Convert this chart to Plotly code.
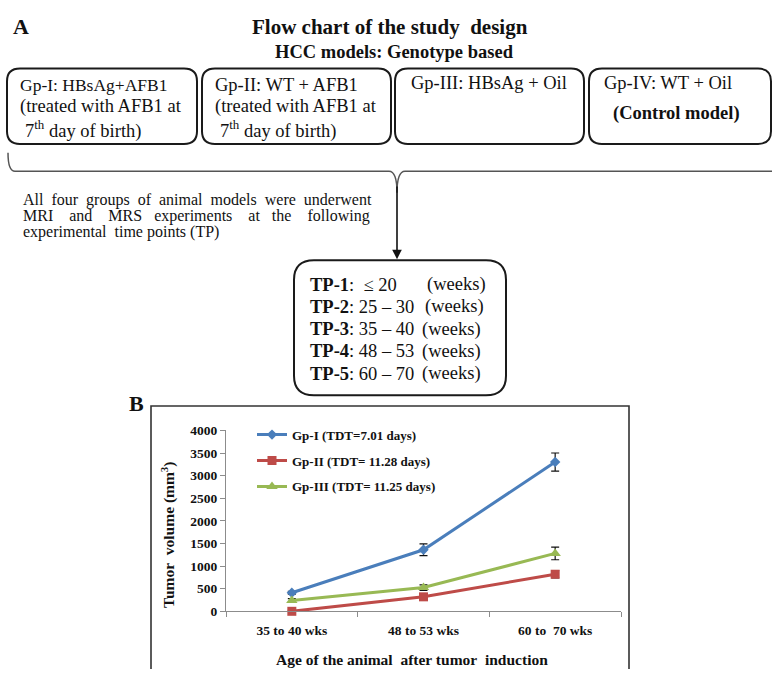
import plotly.graph_objects as go

# ---------------- data ----------------
categories = ["35 to 40 wks", "48 to 53 wks", "60 to\u00a0\u00a070 wks"]
series_names = ["Gp-I (TDT=7.01 days)", "Gp-II (TDT= 11.28 days)", "Gp-III (TDT= 11.25 days)"]
gp1 = [410, 1360, 3300]
gp1_err = [30, 130, 200]
gp2 = [0, 320, 820]
gp2_err = [20, 30, 80]
gp3 = [240, 525, 1280]
gp3_err = [40, 60, 140]
y_ticks = [0, 500, 1000, 1500, 2000, 2500, 3000, 3500, 4000]

group_boxes = [
    ["Gp-I: HBsAg+AFB1", "(treated with AFB1 at", "7<sup>th</sup> day of birth)"],
    ["Gp-II: WT + AFB1", "(treated with AFB1 at", "7<sup>th</sup> day of birth)"],
    ["Gp-III: HBsAg + Oil"],
    ["Gp-IV: WT + Oil", "<b>(Control model)</b>"],
]
NB = "\u00a0"
paragraph = [
    f"All{NB} four{NB} groups{NB} of{NB} animal{NB} models{NB} were{NB} underwent",
    f"MRI{NB*3} and{NB*3} MRS{NB*2} experiments{NB*3} at{NB*2} the{NB*3} following",
    f"experimental{NB} time points (TP)",
]
tp_labels = ["<b>TP-1</b>:" + NB * 2 + "\u2264 20", "<b>TP-2</b>: 25 \u2013 30",
             "<b>TP-3</b>: 35 \u2013 40", "<b>TP-4</b>: 48 \u2013 53", "<b>TP-5</b>: 60 \u2013 70"]
tp_unit = "(weeks)"

# ---------------- layout helpers (pixel space) ----------------
W, H = 772, 677
SERIF = "Liberation Serif, Times New Roman, serif"
INK = "#111111"

def rrect(x0, y0, x1, y1, r):
    return (f"M{x0+r},{y0} L{x1-r},{y0} Q{x1},{y0} {x1},{y0+r} L{x1},{y1-r} "
            f"Q{x1},{y1} {x1-r},{y1} L{x0+r},{y1} Q{x0},{y1} {x0},{y1-r} "
            f"L{x0},{y0+r} Q{x0},{y0} {x0+r},{y0} Z")

shapes = []
annotations = []

def txt(x, y, s, size, bold=False, anchor="left", color=INK, angle=0):
    f = dict(family=SERIF, size=size, color=color)
    if bold:
        f["weight"] = "bold"
    annotations.append(dict(
        x=x, y=y, xref="x2", yref="y2", text=s, showarrow=False,
        xanchor=anchor, yanchor="middle", textangle=angle, font=f,
    ))

# Panel A headings
txt(21, 20, "A", 22, bold=True, anchor="center")
txt(390, 20, "Flow chart of the study" + NB + " design", 21, bold=True, anchor="center")
txt(394, 46, "HCC models: Genotype based", 18.5, bold=True, anchor="center")

# group boxes
box_x = [(7, 197), (202, 391), (395, 584), (589, 771)]
box_text_x = [[18, 18, 23], [213, 213, 218], [409], [602, 611]]
box_text_y = [[80, 102, 125], [80, 102, 125], [78], [78, 109]]
box_text_size = [[17.5, 18.5, 18.5], [18.5, 18.5, 18.5], [18.5], [18.5, 18.5]]
for (x0, x1), lines, xs, ys, ss in zip(box_x, group_boxes, box_text_x, box_text_y, box_text_size):
    shapes.append(dict(type="path", path=rrect(x0, 63, x1, 140, 13), xref="x2", yref="y2",
                       line=dict(color="#1a1a1a", width=2)))
    for s, tx, ty, sz in zip(lines, xs, ys, ss):
        txt(tx, ty, s, sz)

# brace
shapes.append(dict(type="path", xref="x2", yref="y2",
                   path="M8,149 Q8,168 15,168 L389,168 Q397,168 397,190 Q397,168 405,168 L772,168",
                   line=dict(color="#555555", width=1.5)))
# arrow
annotations.append(dict(x=397, y=258, xref="x2", yref="y2", ax=397, ay=182, axref="x2", ayref="y2",
                        text="", showarrow=True, arrowhead=2, arrowsize=1.2, arrowwidth=1.6,
                        arrowcolor="#111111"))

# justified paragraph
for line, ly in zip(paragraph, [197, 214, 230]):
    txt(21, ly, line, 16)

# TP box
shapes.append(dict(type="path", path=rrect(294, 259, 506, 397, 20), xref="x2", yref="y2",
                   line=dict(color="#1a1a1a", width=2)))
unit_x = [425, 423, 420, 420, 420]
for i, (lab, ux) in enumerate(zip(tp_labels, unit_x)):
    ty = 284 + i * 22.7
    txt(308, ty, lab, 18.5)
    txt(ux, ty, tp_unit, 18.5)

# Panel B frame and label
shapes.append(dict(type="rect", x0=151, x1=629, y0=408, y1=690, xref="x2", yref="y2",
                   line=dict(color="#333333", width=1.6)))
txt(136, 405, "B", 22, bold=True, anchor="center")

# axis titles
txt(412, 667, "Age of the animal" + NB + " after tumor" + NB + " induction", 15.5, bold=True, anchor="center")
txt(168, 540, "Tumor" + NB + " volume (mm<sup>3</sup>)", 15.5, bold=True, anchor="center", angle=-90)

# ---------------- traces ----------------
fig = go.Figure()
specs = [
    (gp1, gp1_err, "#4A7EBB", "diamond", 8),
    (gp2, gp2_err, "#BE4B48", "square", 9),
    (gp3, gp3_err, "#98B954", "triangle-up", 10),
]
for i, ((vals, err, col, sym, ms), name) in enumerate(zip(specs, series_names)):
    fig.add_trace(go.Scatter(
        x=categories, y=vals, name=name, mode="lines+markers",
        line=dict(color=col, width=3),
        marker=dict(symbol=sym, size=ms, color=col),
        error_y=dict(type="data", array=err, color="#111111", thickness=1.2, width=4),
        cliponaxis=False, legendgroup=f"g{i}",
    ))

tickfont = dict(family=SERIF, size=13.5, color=INK, weight="bold")
fig.update_layout(
    width=W, height=H, margin=dict(l=0, r=0, t=0, b=0),
    paper_bgcolor="white", plot_bgcolor="rgba(0,0,0,0)",
    showlegend=True,
    legend=dict(x=252 / W, y=1 - 422 / H, xanchor="left", yanchor="top",
                bgcolor="rgba(0,0,0,0)", tracegroupgap=6,
                font=dict(family=SERIF, size=13, color=INK, weight="bold")),
    xaxis=dict(domain=[226 / W, 621 / W], anchor="y", type="category", range=[-0.5, 2.5],
               showline=True, linecolor="#8c8c8c", linewidth=1, showgrid=False, zeroline=False,
               ticks="outside", tickson="boundaries", ticklen=5, tickcolor="#8c8c8c",
               ticklabelstandoff=6, tickfont=tickfont),
    yaxis=dict(domain=[1 - 618 / H, 1 - 433 / H], anchor="x", range=[0, 4000],
               tickvals=y_ticks, showline=True, linecolor="#8c8c8c", linewidth=1,
               showgrid=False, zeroline=False, ticks="outside", ticklen=5, tickcolor="#8c8c8c",
               tickfont=tickfont),
    xaxis2=dict(domain=[0, 1], anchor="y2", range=[0, W], visible=False, fixedrange=True),
    yaxis2=dict(domain=[0, 1], anchor="x2", range=[H, 0], visible=False, fixedrange=True),
    shapes=shapes, annotations=annotations,
)

fig.write_html("out.html")
